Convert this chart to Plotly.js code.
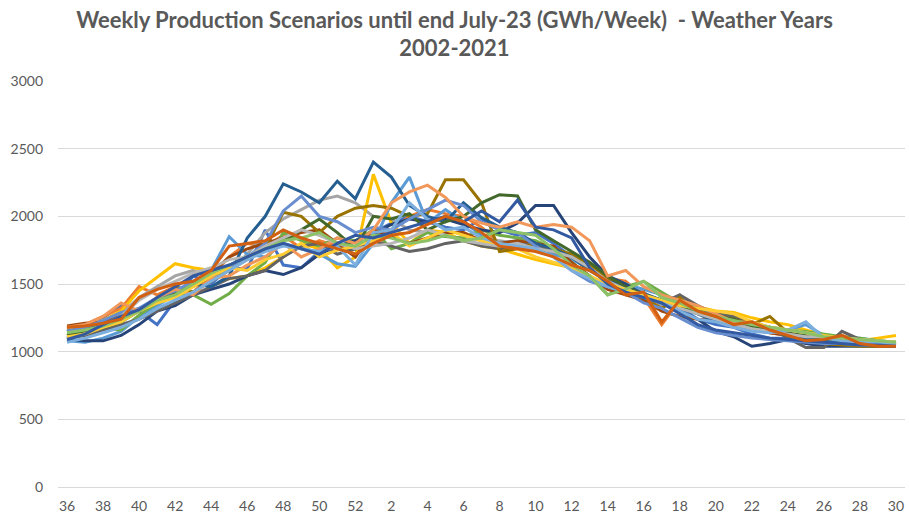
<!DOCTYPE html>
<html>
<head>
<meta charset="utf-8">
<script src="https://cdn.plot.ly/plotly-3.0.1.min.js"></script>
<style>html,body{margin:0;padding:0;background:#fff;}#chart{width:909px;height:524px;}</style>
</head>
<body>
<div id="chart"></div>
<script>
const weeks = ['36','37','38','39','40','41','42','43','44','45','46','47','48','49','50','51','52',
  '1','2','3','4','5','6','7','8','9','10','11','12','13','14','15','16','17','18','19','20','21','22','23','24','25','26','27','28','29','30'];
const tickWeeks = ['36','38','40','42','44','46','48','50','52','2','4','6','8','10','12','14','16','18','20','22','24','26','28','30'];
const seriesNames = ['2002','2003','2004','2005','2006','2007','2008','2009','2010','2011','2012','2013','2014','2015','2016','2017','2018','2019','2020','2021'];
const seriesColors = ['#4472C4','#ED7D31','#A5A5A5','#FFC000','#5B9BD5','#70AD47','#264478','#9E480E','#636363','#997300','#255E91','#43682B','#698ED0','#F1975A','#B7B7B7','#FFCD33','#7CAFDD','#8CC168','#335AA1','#D26012'];

const y2002 = [1100,1150,1250,1340,1300,1200,1380,1560,1500,1620,1610,1900,1640,1620,1740,1800,1700,1880,1950,2000,1960,1920,1900,1980,1900,1860,1880,1800,1700,1600,1560,1480,1420,1380,1330,1240,1200,1180,1130,1100,1100,1080,1060,1050,1050,1040,1040];
const y2003 = [1170,1200,1260,1320,1480,1420,1480,1440,1560,1700,1800,1780,1860,1760,1820,1780,1720,1820,1900,2000,2050,2020,2000,1920,1800,1780,1760,1720,1700,1640,1540,1520,1400,1200,1380,1320,1240,1200,1180,1140,1120,1100,1090,1120,1080,1060,1050];
const y2004 = [1160,1200,1230,1280,1400,1480,1560,1600,1540,1600,1720,1880,1980,2050,2120,2150,2100,2000,1980,1900,1880,1850,1840,1830,1820,1800,1780,1760,1700,1640,1500,1480,1440,1340,1420,1300,1260,1220,1180,1150,1120,1120,1100,1090,1080,1070,1060];
const y2005 = [1120,1150,1230,1300,1450,1550,1650,1620,1600,1540,1560,1620,1700,1800,1760,1620,1700,2310,1950,1800,1900,1880,1820,1780,1760,1720,1680,1650,1620,1560,1480,1450,1420,1380,1360,1330,1300,1290,1250,1220,1200,1160,1120,1090,1080,1100,1120];
const y2006 = [1080,1070,1100,1150,1260,1340,1420,1500,1600,1850,1720,1700,1800,1760,1720,1650,1630,1800,2100,2290,1950,2050,1960,1860,1800,1820,1780,1720,1680,1620,1560,1500,1460,1420,1380,1320,1280,1260,1200,1180,1160,1200,1120,1100,1100,1080,1070];
const y2007 = [1150,1180,1170,1160,1270,1360,1420,1420,1350,1430,1560,1660,1880,1820,1780,1840,1820,1900,1760,1800,1880,1850,1840,1900,1860,1840,1820,1760,1660,1560,1420,1480,1520,1440,1360,1320,1240,1220,1200,1180,1160,1150,1130,1110,1100,1080,1070];
const y2008 = [1090,1080,1080,1120,1200,1300,1340,1420,1460,1500,1560,1600,1570,1620,1720,1780,1820,1870,1940,1980,1960,1980,1940,1900,1880,1950,2080,2080,1880,1700,1560,1500,1420,1360,1300,1240,1150,1110,1040,1060,1090,1060,1040,1040,1040,1040,1040];
const y2009 = [1190,1210,1220,1260,1320,1380,1440,1500,1580,1700,1760,1800,1840,1880,1900,1800,1700,1900,1850,1800,1840,1880,1880,1820,1800,1820,1800,1780,1660,1560,1460,1420,1380,1300,1260,1240,1230,1200,1160,1140,1120,1110,1100,1090,1080,1060,1050];
const y2010 = [1100,1120,1160,1200,1240,1300,1360,1420,1480,1540,1560,1600,1700,1780,1800,1720,1760,1820,1780,1740,1760,1800,1820,1780,1760,1780,1800,1740,1700,1620,1540,1480,1400,1360,1420,1340,1280,1260,1220,1180,1100,1030,1030,1150,1090,1060,1050];
const y2011 = [1140,1160,1200,1240,1300,1380,1480,1440,1520,1600,1680,1760,2030,2000,1880,2000,2060,2080,2060,2000,2020,2270,2270,2100,1740,1760,1800,1760,1720,1640,1540,1440,1400,1320,1400,1280,1260,1240,1200,1260,1140,1100,1060,1050,1040,1040,1040];
const y2012 = [1150,1160,1200,1260,1300,1380,1420,1500,1480,1560,1840,2000,2240,2180,2100,2260,2130,2400,2290,2080,2000,1960,2100,1990,1920,1880,1800,1760,1700,1600,1520,1480,1430,1380,1320,1280,1220,1200,1160,1150,1130,1100,1080,1070,1060,1050,1050];
const y2013 = [1120,1150,1180,1220,1300,1380,1440,1480,1560,1620,1700,1760,1820,1900,1980,1880,1760,2000,1980,2020,1900,1960,2000,2100,2160,2150,1900,1820,1740,1660,1560,1480,1420,1380,1340,1300,1260,1240,1190,1170,1140,1120,1100,1080,1070,1060,1050];
const y2014 = [1150,1180,1230,1290,1320,1400,1450,1520,1560,1620,1700,1800,2040,2150,2000,1960,1880,1920,1900,1980,2050,2120,2080,1960,1900,1880,1780,1700,1600,1520,1480,1440,1360,1320,1250,1180,1140,1120,1100,1090,1080,1070,1060,1060,1050,1050,1050];
const y2015 = [1180,1200,1260,1360,1300,1400,1460,1420,1540,1560,1640,1700,1800,1700,1760,1840,1800,1900,2100,2180,2230,2140,2000,1950,1920,1960,1920,1940,1920,1820,1560,1600,1480,1420,1380,1340,1280,1220,1220,1180,1160,1140,1100,1100,1090,1070,1060];
const y2016 = [1100,1130,1200,1260,1380,1460,1520,1580,1620,1680,1700,1780,1840,1900,1860,1800,1760,1780,1800,1840,1900,1860,1820,1800,1780,1800,1760,1740,1700,1620,1520,1460,1420,1360,1320,1280,1240,1200,1170,1150,1130,1110,1110,1100,1090,1080,1070];
const y2017 = [1110,1130,1180,1220,1300,1360,1400,1480,1560,1620,1600,1680,1720,1800,1700,1750,1780,1820,1880,1780,1840,1900,1860,1820,1800,1760,1700,1660,1620,1560,1500,1460,1420,1380,1340,1320,1300,1280,1220,1180,1160,1140,1120,1100,1090,1080,1070];
const y2018 = [1070,1100,1140,1180,1240,1320,1380,1440,1520,1600,1680,1740,1780,1760,1740,1780,1640,1880,1900,2100,1980,1900,1920,1840,1800,1780,1760,1700,1600,1540,1480,1440,1400,1360,1300,1240,1220,1180,1150,1140,1160,1220,1100,1080,1070,1060,1060];
const y2019 = [1140,1160,1190,1240,1300,1380,1420,1500,1580,1640,1700,1760,1820,1840,1880,1800,1780,1860,1840,1800,1820,1860,1820,1840,1900,1880,1860,1760,1640,1560,1420,1460,1520,1400,1360,1300,1260,1230,1200,1180,1160,1140,1110,1100,1090,1080,1070];
const y2020 = [1090,1130,1200,1260,1310,1400,1480,1560,1600,1640,1700,1760,1800,1760,1720,1800,1860,1840,1880,1920,1960,2000,1960,2040,1960,2120,1920,1900,1840,1620,1500,1440,1400,1360,1280,1200,1160,1140,1120,1100,1090,1080,1070,1060,1050,1050,1040];
const y2021 = [1180,1190,1210,1240,1400,1460,1500,1520,1600,1780,1800,1820,1900,1840,1800,1760,1720,1800,1860,1880,1940,2000,1960,1880,1780,1760,1740,1700,1640,1600,1520,1420,1440,1220,1380,1300,1260,1200,1220,1160,1120,1080,1090,1120,1060,1040,1040];

const allSeries = [y2002,y2003,y2004,y2005,y2006,y2007,y2008,y2009,y2010,y2011,y2012,y2013,y2014,y2015,y2016,y2017,y2018,y2019,y2020,y2021];

const traces = allSeries.map((ys, i) => ({
  type: 'scatter', mode: 'lines', x: weeks, y: ys, name: seriesNames[i],
  line: {color: seriesColors[i], width: 3}, hoverinfo: 'skip'
}));

const FONT = 'Lato, "Open Sans", sans-serif';
const layout = {
  width: 909, height: 524,
  paper_bgcolor: '#ffffff', plot_bgcolor: '#ffffff',
  margin: {l: 58, r: 4, t: 81, b: 37},
  showlegend: false,
  title: {
    text: '<b>Weekly Production Scenarios until end July-23 (GWh/Week)  - Weather Years<br>2002-2021</b>',
    font: {family: FONT, size: 22, color: '#595959'},
    x: 0.5, xanchor: 'center', xref: 'container', y: 0.947, yanchor: 'middle', yref: 'container'
  },
  xaxis: {
    type: 'category', categoryorder: 'array', categoryarray: weeks,
    tickmode: 'array', tickvals: tickWeeks, ticktext: tickWeeks,
    showgrid: false, zeroline: false, showline: true, linecolor: '#D9D9D9', linewidth: 1,
    ticks: '', tickfont: {family: FONT, size: 14, color: '#595959'}, ticklabelstandoff: 6,
    range: [-0.5, 46.5], fixedrange: true
  },
  yaxis: {
    range: [0, 3000], dtick: 500, tick0: 0,
    showgrid: true, gridcolor: '#D9D9D9', gridwidth: 1,
    zeroline: false, showline: false, ticks: '',
    tickfont: {family: FONT, size: 14, color: '#595959'}, ticklabelstandoff: 14, fixedrange: true
  }
};

Plotly.newPlot('chart', traces, layout, {displayModeBar: false, staticPlot: true});
</script>
</body>
</html>
